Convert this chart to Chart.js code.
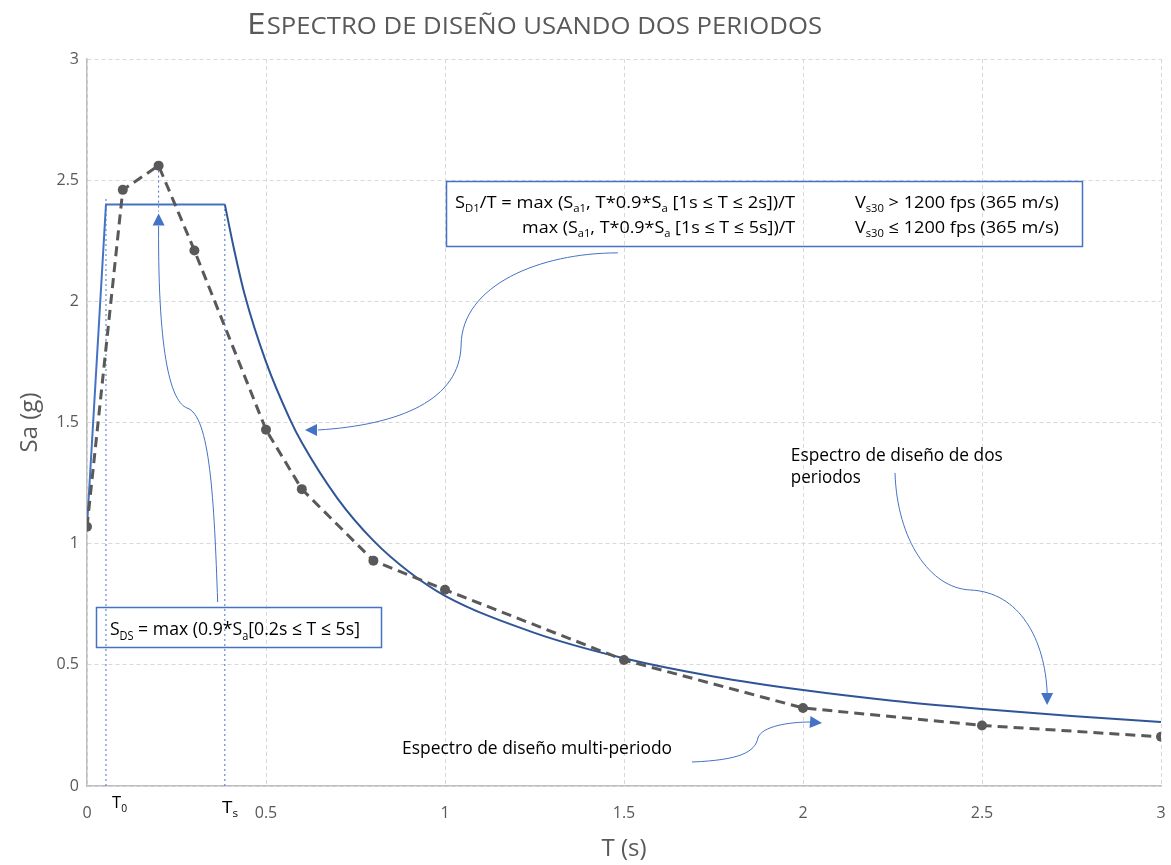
<!DOCTYPE html>
<html>
<head>
<meta charset="utf-8">
<script src="https://cdn.jsdelivr.net/npm/chart.js@4.4.1/dist/chart.umd.min.js"></script>
<style>
  html, body { margin: 0; padding: 0; background: #ffffff; }
  canvas { display: block; }
</style>
</head>
<body>
<canvas id="c" width="1171" height="865"></canvas>
<script>
// ---------------- DATA ----------------
const chartTitleFirst = 'E';
const chartTitleRest = 'SPECTRO DE DISEÑO USANDO DOS PERIODOS';
const xAxisTitle = 'T (s)';
const yAxisTitle = 'Sa (g)';
const xTickLabels = ['0', '0.5', '1', '1.5', '2', '2.5', '3'];
const yTickLabels = ['0', '0.5', '1', '1.5', '2', '2.5', '3'];

// Multi-period design spectrum (dashed, with markers)
const multiT  = [0, 0.1, 0.2, 0.3, 0.5, 0.6, 0.8, 1.0, 1.5, 2.0, 2.5, 3.0];
const multiSa = [1.07, 2.46, 2.56, 2.21, 1.47, 1.225, 0.93, 0.81, 0.52, 0.322, 0.25, 0.203];

// Two-period design spectrum: rising branch and plateau (S_DS)
const plateauT  = [0, 0.053, 0.385];
const plateauSa = [1.07, 2.40, 2.40];

// Two-period design spectrum: descending branch (S_D1/T)
const decayT  = [0.385, 0.41, 0.44, 0.5, 0.566, 0.6, 0.7, 0.8, 0.9, 1.0, 1.25, 1.5, 1.75, 2.0, 2.25, 2.5, 2.75, 3.0];
const decaySa = [2.40, 2.22, 2.03, 1.75, 1.516, 1.417, 1.186, 1.0125, 0.883, 0.785, 0.632, 0.527, 0.452, 0.396, 0.352, 0.318, 0.289, 0.264];

// Reference periods (dotted guide lines)
const T0 = 0.053;
const Ts = 0.385;
const T0Top = 2.43;
const TsTop = 2.40;
const peakT = 0.2;
const peakGuideSa = [2.56, 2.37];

// ---------------- helpers ----------------
const toPts = (xs, ys) => xs.map((x, i) => ({ x: x, y: ys[i] }));

// annotation content, placed in data units (T, Sa)
const notes = [
  { text: 'S_{D1}/T = max (S_{a1}, T*0.9*S_{a} [1s ≤ T ≤ 2s])/T', t: 1.028, sa: 2.385, size: 17, width: 340, align: 'left' },
  { text: 'max (S_{a1}, T*0.9*S_{a} [1s ≤ T ≤ 5s])/T', t: 1.978, sa: 2.282, size: 17, width: 273, align: 'right' },
  { text: 'V_{s30} > 1200 fps (365 m/s)', t: 2.145, sa: 2.385, size: 17, width: 204, align: 'left' },
  { text: 'V_{s30} ≤ 1200 fps (365 m/s)', t: 2.145, sa: 2.282, size: 17, width: 204, align: 'left' },
  { text: 'S_{DS} = max (0.9*S_{a}[0.2s ≤ T ≤ 5s]', t: 0.064, sa: 0.623, size: 19, width: 250, align: 'left' },
  { text: 'Espectro de diseño de dos', t: 1.966, sa: 1.341, size: 18, width: 212, align: 'left' },
  { text: 'periodos', t: 1.966, sa: 1.250, size: 18, width: 70, align: 'left' },
  { text: 'Espectro de diseño multi-periodo', t: 0.880, sa: 0.132, size: 18, width: 270, align: 'left' },
  { text: 'T_{0}', t: 0.070, sa: -0.091, size: 17, width: 15, align: 'left' },
  { text: 'T_{s}', t: 0.377, sa: -0.111, size: 17, width: 16, align: 'left' }
];

const boxes = [
  { t0: 1.003, t1: 2.779, sa0: 2.228, sa1: 2.497 },
  { t0: 0.025, t1: 0.821, sa0: 0.574, sa1: 0.739 }
];

const arrows = [
  { start: [0.365, 0.759], curves: [[0.355, 1.180, 0.344, 1.531, 0.279, 1.560], [0.237, 1.585, 0.198, 1.758, 0.2, 2.311]], tip: [0.2, 2.362] },
  { start: [1.483, 2.200], curves: [[1.265, 2.200, 1.047, 2.067, 1.045, 1.820], [1.042, 1.593, 0.874, 1.490, 0.645, 1.469]], tip: [0.609, 1.469] },
  { start: [2.257, 1.292], curves: [[2.263, 1.015, 2.355, 0.817, 2.466, 0.809], [2.606, 0.801, 2.676, 0.602, 2.682, 0.384]], tip: [2.682, 0.334] },
  { start: [1.690, 0.099], curves: [[1.824, 0.107, 1.866, 0.140, 1.874, 0.198], [1.885, 0.248, 1.964, 0.264, 2.020, 0.264]], tip: [2.053, 0.260] }
];

const FONT = '"Open Sans", "Noto Sans", sans-serif';
const GREY = '#595959';
const BLUE = '#4472C4';
const DARKBLUE = '#2F5597';

function parseRich(s) {
  const out = []; const re = /_\{([^}]*)\}/g; let last = 0, m;
  while ((m = re.exec(s))) {
    if (m.index > last) out.push({ t: s.slice(last, m.index), sub: false });
    out.push({ t: m[1], sub: true });
    last = re.lastIndex;
  }
  if (last < s.length) out.push({ t: s.slice(last), sub: false });
  return out;
}

function drawRich(ctx, text, x, y, size, targetW, align, color) {
  const segs = parseRich(text);
  let w = 0;
  segs.forEach(sg => {
    ctx.font = (sg.sub ? size * 0.62 : size) + 'px ' + FONT;
    sg.w = ctx.measureText(sg.t).width; w += sg.w;
  });
  const sx = targetW ? targetW / w : 1;
  const left = align === 'right' ? x - w * sx : x;
  ctx.save();
  ctx.translate(left, y);
  ctx.scale(sx, 1);
  ctx.fillStyle = color;
  ctx.textBaseline = 'alphabetic';
  ctx.textAlign = 'left';
  let cx = 0;
  segs.forEach(sg => {
    ctx.font = (sg.sub ? size * 0.62 : size) + 'px ' + FONT;
    ctx.fillText(sg.t, cx, sg.sub ? size * 0.26 : 0);
    cx += sg.w;
  });
  ctx.restore();
}

const annotationPlugin = {
  id: 'annotations',
  afterDraw(chart) {
    const ctx = chart.ctx;
    const xs = chart.scales.x, ys = chart.scales.y;
    const P = (t, sa) => [xs.getPixelForValue(t), ys.getPixelForValue(sa)];

    // Title (small caps style)
    ctx.save();
    const titleLeft = 247, titleBase = 33.5, titleW = 574;
    ctx.font = '400 30px ' + FONT;
    const w1 = ctx.measureText(chartTitleFirst).width;
    ctx.font = '400 23px ' + FONT;
    const w2 = ctx.measureText(chartTitleRest).width;
    const sx = titleW / (w1 + w2);
    ctx.translate(titleLeft, titleBase);
    ctx.scale(sx, 1);
    ctx.fillStyle = GREY;
    ctx.textBaseline = 'alphabetic';
    ctx.font = '400 30px ' + FONT;
    ctx.fillText(chartTitleFirst, 0, 0);
    ctx.font = '400 23px ' + FONT;
    ctx.fillText(chartTitleRest, w1 + 1, 0);
    ctx.restore();

    // Boxes
    ctx.save();
    ctx.strokeStyle = BLUE;
    ctx.lineWidth = 1.5;
    boxes.forEach(b => {
      const [x0, y0] = P(b.t0, b.sa1);
      const [x1, y1] = P(b.t1, b.sa0);
      ctx.strokeRect(Math.round(x0) + 0.5, Math.round(y0) + 0.5, Math.round(x1 - x0), Math.round(y1 - y0));
    });
    ctx.restore();

    // Texts
    notes.forEach(n => {
      const [x, y] = P(n.t, n.sa);
      drawRich(ctx, n.text, x, y, n.size, n.width, n.align, '#000000');
    });

    // Curved arrows
    ctx.save();
    ctx.strokeStyle = BLUE;
    ctx.fillStyle = BLUE;
    ctx.lineWidth = 1;
    arrows.forEach(a => {
      ctx.beginPath();
      const s = P(a.start[0], a.start[1]);
      ctx.moveTo(s[0], s[1]);
      let last = s;
      a.curves.forEach(c => {
        const c1 = P(c[0], c[1]), c2 = P(c[2], c[3]), e = P(c[4], c[5]);
        ctx.bezierCurveTo(c1[0], c1[1], c2[0], c2[1], e[0], e[1]);
        last = e;
      });
      ctx.stroke();
      const tip = P(a.tip[0], a.tip[1]);
      const dx = tip[0] - last[0], dy = tip[1] - last[1];
      const len = Math.hypot(dx, dy) || 1;
      const ux = dx / len, uy = dy / len;
      const L = 12, H = 6;
      const bx = tip[0] - ux * L, by = tip[1] - uy * L;
      ctx.beginPath();
      ctx.moveTo(tip[0], tip[1]);
      ctx.lineTo(bx - uy * H, by + ux * H);
      ctx.lineTo(bx + uy * H, by - ux * H);
      ctx.closePath();
      ctx.fill();
    });
    ctx.restore();
  }
};

const dotted = { borderColor: BLUE, borderWidth: 1, borderDash: [2, 3], pointRadius: 0, showLine: true, fill: false, tension: 0 };

new Chart(document.getElementById('c'), {
  type: 'scatter',
  data: {
    datasets: [
      {
        label: 'Espectro de diseño multi-periodo',
        data: toPts(multiT, multiSa),
        showLine: true,
        borderColor: GREY,
        borderWidth: 3,
        borderDash: [10, 6],
        pointRadius: 5,
        pointHoverRadius: 5,
        pointBackgroundColor: GREY,
        pointBorderWidth: 0,
        tension: 0
      },
      {
        label: 'Espectro de diseño de dos periodos (S_DS)',
        data: toPts(plateauT, plateauSa),
        showLine: true,
        borderColor: BLUE,
        borderWidth: 2,
        pointRadius: 0,
        tension: 0
      },
      {
        label: 'Espectro de diseño de dos periodos (S_D1/T)',
        data: toPts(decayT, decaySa),
        showLine: true,
        borderColor: DARKBLUE,
        borderWidth: 2,
        pointRadius: 0,
        cubicInterpolationMode: 'monotone'
      },
      Object.assign({ label: 'T0', data: [{ x: T0, y: 0 }, { x: T0, y: T0Top }] }, dotted),
      Object.assign({ label: 'Ts', data: [{ x: Ts, y: 0 }, { x: Ts, y: TsTop }] }, dotted),
      Object.assign({ label: 'peak', data: [{ x: peakT, y: peakGuideSa[0] }, { x: peakT, y: peakGuideSa[1] }] }, dotted)
    ]
  },
  options: {
    responsive: false,
    animation: false,
    devicePixelRatio: 1,
    layout: { padding: { top: 59, right: 10, left: 0, bottom: 0 } },
    plugins: { legend: { display: false }, tooltip: { enabled: false }, title: { display: false } },
    scales: {
      x: {
        type: 'linear', min: 0, max: 3,
        afterFit(scale) { scale.height = 79; scale.paddingRight = 0; scale.paddingLeft = 0; },
        ticks: {
          stepSize: 0.5, padding: 18, color: GREY,
          font: { family: FONT, size: 16 },
          callback: (v) => xTickLabels[Math.round(v / 0.5)]
        },
        grid: { color: '#d9d9d9', lineWidth: 1, drawTicks: false },
        border: { display: true, color: '#bfbfbf', width: 1.5, dash: [4, 3] },
        title: { display: true, text: xAxisTitle, color: GREY, font: { family: FONT, size: 24 }, padding: { top: 0, bottom: 1 } }
      },
      y: {
        type: 'linear', min: 0, max: 3,
        afterFit(scale) { scale.width = 87; scale.paddingTop = 0; scale.paddingBottom = 0; },
        ticks: {
          stepSize: 0.5, padding: 8, color: GREY,
          font: { family: FONT, size: 16 },
          callback: (v) => yTickLabels[Math.round(v / 0.5)]
        },
        grid: { color: '#d9d9d9', lineWidth: 1, drawTicks: false },
        border: { display: true, color: '#bfbfbf', width: 1.5, dash: [4, 3] },
        title: { display: true, text: yAxisTitle, color: GREY, font: { family: FONT, size: 24 }, padding: { top: 16, bottom: 0 } }
      }
    }
  },
  plugins: [annotationPlugin]
});
</script>
</body>
</html>
